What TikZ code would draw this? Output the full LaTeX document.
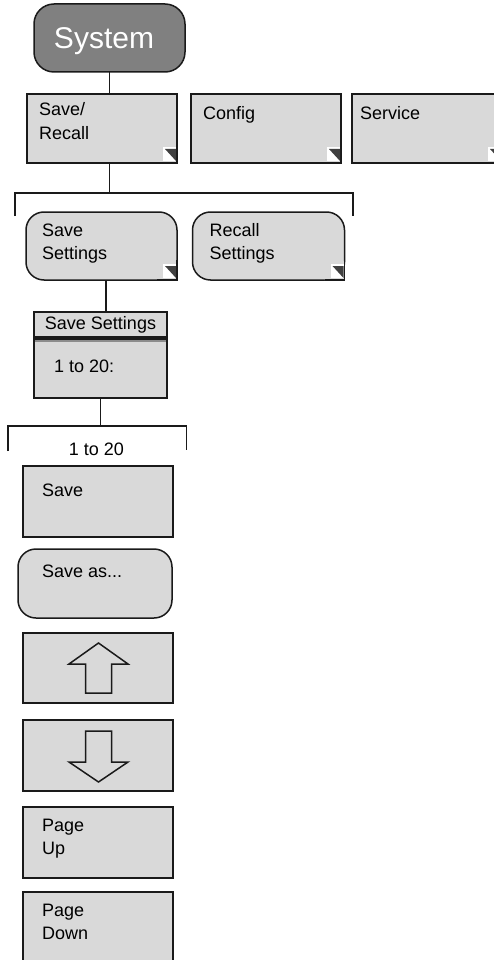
\documentclass[tikz,border=0pt]{standalone}
\usepackage{fontspec}
\setmainfont{Liberation Sans}
\usetikzlibrary{positioning,calc}
\definecolor{keygray}{HTML}{D9D9D9}
\definecolor{rootgray}{HTML}{808080}
\definecolor{edgegray}{HTML}{1A1A1A}
\definecolor{markgray}{HTML}{404040}
\definecolor{midgray}{HTML}{8C8C8C}

\begin{document}
\begin{tikzpicture}[x=1pt, y=-1pt,
  key/.style={draw=edgegray, fill=keygray, line width=1.5pt, minimum width=150pt, minimum height=70pt, inner sep=0pt, outer sep=0pt},
  softkey/.style={key, rounded corners=18pt},
  keytxt/.style={anchor=north west, align=left, inner sep=0pt, font=\fontsize{18}{23.5}\selectfont, execute at begin node=\strut},
  wire/.style={draw=edgegray, line width=1.5pt},
  arrowshape/.style={draw=edgegray, line width=1.5pt, line join=miter}]
\useasboundingbox (0,0) rectangle (494,960);
\clip (0,0) rectangle (494,960);

% top level
\node[softkey, fill=rootgray, minimum width=151pt, minimum height=68pt, rounded corners=20pt] (system) at (109.5,38) {};
\node[anchor=base, inner sep=0pt, text=white, font=\fontsize{30}{36}\selectfont] (system-t) at (104,49) {System};

\node[key, minimum height=69pt] (savercl) at (102,128.5) {};
\node[key, minimum height=69pt] (config) at (266,128.5) {};
\node[key, minimum height=69pt] (service) at (427,128.5) {};
\node[keytxt] (savercl-t) at ([shift={(12,8.5)}]savercl.north west) {Save/\\Recall};
\node[keytxt] (config-t) at ([shift={(12,8.5)}]config.north west) {Config};
\node[keytxt] (service-t) at ([shift={(8,8.5)}]service.north west) {Service};

% save / recall
\node[softkey, minimum width=151pt, minimum height=68pt] (sset) at (101.5,246) {};
\node[softkey, minimum width=152pt, minimum height=68pt] (rset) at (268.5,246) {};
\node[keytxt] (sset-t) at ([shift={(16,11.5)}]sset.north west) {Save\\Settings};
\node[keytxt] (rset-t) at ([shift={(17,11)}]rset.north west) {Recall\\Settings};

% dialog
\node[key, minimum width=133pt, minimum height=61pt] (ssbody) at (100.5,367.5) {};
\node[key, minimum width=133pt, minimum height=25pt, font=\fontsize{18}{22}\selectfont] (sshead) at (100.5,324.5) {Save Settings};
\node[keytxt] (ssbody-t) at ([shift={(20,18.5)}]ssbody.north west) {1 to 20:};
\draw[edgegray, line width=2.7pt] ([yshift=-1.3pt]sshead.south west) -- ([yshift=-1.3pt]sshead.south east);
\draw[midgray, line width=2.3pt] ($(sshead.south west)+(1,3.8)$) -- ($(sshead.south east)+(-1,3.8)$);

% keys 1 to 20
\node[anchor=base, inner sep=0pt, font=\fontsize{18}{22}\selectfont] (range) at (96.5,455) {1 to 20};
\node[key, minimum height=71pt] (save) at (98,501.5) {};
\node[softkey, minimum width=154pt, minimum height=69pt] (saveas) at (95,583.5) {};
\node[key] (up) at (98,668) {};
\node[key, minimum height=71pt] (down) at (98,755.5) {};
\node[key, minimum height=71pt] (pgup) at (98,842.5) {};
\node[key, minimum height=71pt] (pgdn) at (98,927.5) {};
\node[keytxt] (save-t) at ([shift={(19,13.5)}]save.north west) {Save};
\node[keytxt] (saveas-t) at ([shift={(24,11.5)}]saveas.north west) {Save as...};
\node[keytxt] (pgup-t) at ([shift={(19,11.5)}]pgup.north west) {Page\\Up};
\node[keytxt] (pgdn-t) at ([shift={(19,11.5)}]pgdn.north west) {Page\\Down};

\draw[arrowshape] ($(up)+(0.5,-25)$) -- ($(up)+(30,-4)$) -- ($(up)+(13.5,-4)$) -- ($(up)+(13.5,25)$)
  -- ($(up)+(-12.5,25)$) -- ($(up)+(-12.5,-4)$) -- ($(up)+(-29,-4)$) -- cycle;
\draw[arrowshape] ($(down)+(0.5,26.5)$) -- ($(down)+(30,6.5)$) -- ($(down)+(13.5,6.5)$) -- ($(down)+(13.5,-24.5)$)
  -- ($(down)+(-12.5,-24.5)$) -- ($(down)+(-12.5,6.5)$) -- ($(down)+(-29,6.5)$) -- cycle;

% square corner under the marker
\foreach \k in {sset,rset}{
  \fill[keygray] ($(\k.south east)+(-20,0)$) -- (\k.south east) -- ($(\k.south east)+(0,-20)$) -- cycle;
  \draw[wire, line join=miter] ($(\k.south east)+(-20,0)$) -- (\k.south east) -- ($(\k.south east)+(0,-20)$);
}
\foreach \k in {savercl,config,service,sset,rset}{
  \fill[white] ($(\k.south east)+(-14,-16)$) rectangle ($(\k.south east)+(-1,-2)$);
  \fill[markgray] ($(\k.south east)+(-12,-14)$) -- ($(\k.south east)+(-1,-14)$) -- ($(\k.south east)+(-1,-2)$) -- cycle;
}

% connectors
\coordinate (fork1) at (109.5,193);
\coordinate (br1l) at (15,216);
\coordinate (br1r) at (353,216);
\coordinate (fork2) at (100.5,426);
\coordinate (br2l) at (8,451);
\coordinate (br2r) at (186.5,450);
\draw[wire] (system.south) -- (system.south |- savercl.north);
\draw[wire] (system.south |- savercl.south) -- (fork1);
\draw[wire] (br1l) -- (br1l |- fork1) -- (br1r |- fork1) -- (br1r);
\draw[wire] ([xshift=4.5pt]sset.south) -- ([xshift=4.5pt]sset.south |- sshead.north);
\draw[wire] (ssbody.south) -- (fork2);
\draw[wire] (br2l) -- (br2l |- fork2) -- (br2r |- fork2) -- (br2r);
\end{tikzpicture}
\end{document}
